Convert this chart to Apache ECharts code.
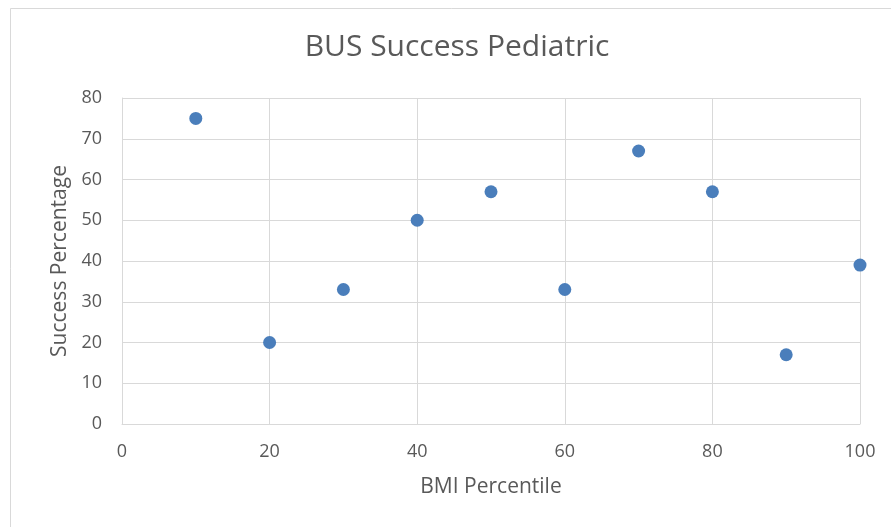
<!DOCTYPE html>
<html>
<head>
<meta charset="utf-8">
<script src="https://cdn.jsdelivr.net/npm/echarts@6/dist/echarts.min.js"></script>
<style>html,body{margin:0;padding:0;background:#fff}#c{width:891px;height:527px}</style>
</head>
<body>
<div id="c"></div>
<script>
const titleText = "BUS Success Pediatric";
const xName = "BMI Percentile";
const yName = "Success Percentage";
const bmiPercentile = [10, 20, 30, 40, 50, 60, 70, 80, 90, 100];
const successPct = [75, 20, 33, 50, 57, 33, 67, 57, 17, 39];

const FONT = "'Open Sans', sans-serif";
const chart = echarts.init(document.getElementById('c'), null, {renderer: 'canvas'});
chart.setOption({
  animation: false,
  backgroundColor: '#fff',
  graphic: [{
    type: 'rect', silent: true, z: -10,
    shape: {x: 10.5, y: 8.5, width: 900, height: 540},
    style: {fill: 'none', stroke: '#d9d9d9', lineWidth: 1}
  }],
  title: {
    text: titleText, left: 452, top: 27, textAlign: 'center',
    textStyle: {fontFamily: FONT, fontSize: 30, fontWeight: 'normal', color: '#595959'}
  },
  grid: {left: 122, top: 98, right: 31, bottom: 103, containLabel: false},
  xAxis: {
    type: 'value', min: 0, max: 100, interval: 20,
    name: xName, nameLocation: 'middle', nameGap: 53,
    nameTextStyle: {fontFamily: FONT, fontSize: 21, color: '#595959'},
    axisLine: {show: true, lineStyle: {color: '#d9d9d9', width: 1}},
    axisTick: {show: false},
    axisLabel: {margin: 19, fontFamily: FONT, fontSize: 18, color: '#595959'},
    splitLine: {show: true, lineStyle: {color: '#d9d9d9', width: 1}}
  },
  yAxis: {
    type: 'value', min: 0, max: 80, interval: 10,
    name: yName, nameLocation: 'middle', nameGap: 49,
    nameTextStyle: {fontFamily: FONT, fontSize: 21, color: '#595959'},
    axisLine: {show: true, lineStyle: {color: '#d9d9d9', width: 1}},
    axisTick: {show: false},
    axisLabel: {margin: 20, fontFamily: FONT, fontSize: 18, color: '#595959'},
    splitLine: {show: true, lineStyle: {color: '#d9d9d9', width: 1}}
  },
  series: [{
    type: 'scatter',
    data: bmiPercentile.map((x, i) => [x, successPct[i]]),
    symbol: 'circle', symbolSize: 13,
    itemStyle: {color: '#4a7ebb', opacity: 1}
  }]
});
</script>
</body>
</html>
